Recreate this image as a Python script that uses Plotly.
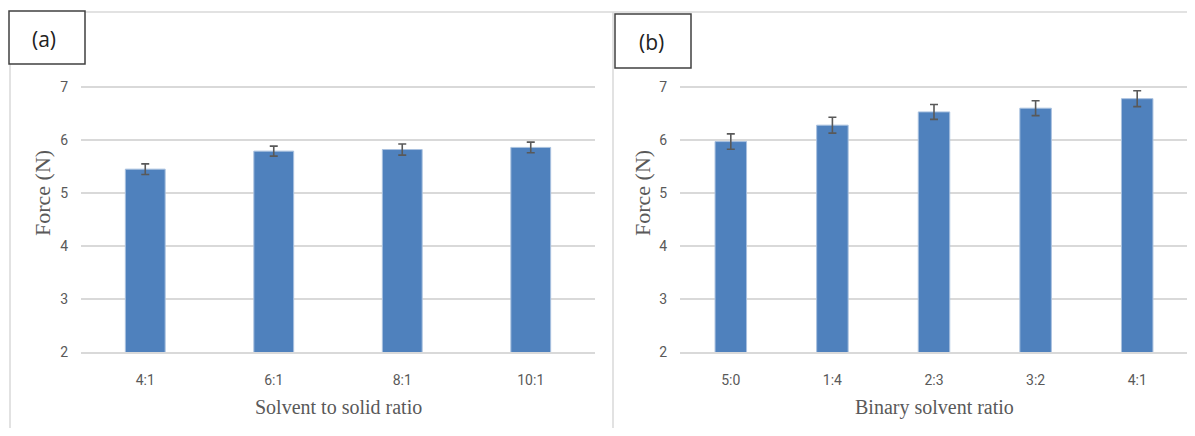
import plotly.graph_objects as go

# The page body has an 8px margin, so the figure is placed at (8, 8) in the window.
OFF = 8
W, H = 1195 - OFF, 436 - 2 * OFF

# Panel (a)
cats_a = ["4:1", "6:1", "8:1", "10:1"]
force_a = [5.45, 5.79, 5.82, 5.86]
err_a = [0.10, 0.095, 0.105, 0.10]

# Panel (b)
cats_b = ["5:0", "1:4", "2:3", "3:2", "4:1"]
force_b = [5.97, 6.28, 6.53, 6.60, 6.78]
err_b = [0.145, 0.15, 0.14, 0.14, 0.15]

# the "8" label is hidden behind the (a)/(b) boxes in the reference
y_ticks = [2, 3, 4, 5, 6, 7, 8]
y_ticktext = ["2", "3", "4", "5", "6", "7", ""]

xtitle_a = "Solvent to solid ratio"
xtitle_b = "Binary solvent ratio"
ytitle = "Force (N)"

BAR = "#4f81bd"
GRID = "#d9d9d9"
TXT = "#595959"

def px_x(x):
    return (x - OFF) / W

def px_y(y):
    return 1 - (y - OFF) / H

fig = go.Figure()
fig.add_trace(go.Bar(x=cats_a, y=force_a, xaxis="x", yaxis="y",
                     marker=dict(color=BAR, line=dict(color="#a9c1df", width=1)),
                     error_y=dict(type="data", array=err_a, color=TXT, thickness=1.6, width=4),
                     showlegend=False))
fig.add_trace(go.Bar(x=cats_b, y=force_b, xaxis="x2", yaxis="y2",
                     marker=dict(color=BAR, line=dict(color="#a9c1df", width=1)),
                     error_y=dict(type="data", array=err_b, color=TXT, thickness=1.6, width=4),
                     showlegend=False))

ydom = [px_y(352), px_y(34)]
tickfont = dict(family="Liberation Sans Narrow, Roboto, Arial", size=14, color=TXT)

common_y = dict(range=[2, 8], tickvals=y_ticks, ticktext=y_ticktext, showgrid=True,
                gridcolor=GRID, gridwidth=1.5, zeroline=False, showline=False,
                tickfont=tickfont, ticklabelstandoff=12, fixedrange=True, automargin=False)
common_x = dict(showgrid=False, showline=True, linecolor=GRID, linewidth=1.5,
                tickfont=tickfont, ticks="", ticklabelstandoff=14, fixedrange=True,
                automargin=False)

fig.update_layout(
    width=W, height=H,
    margin=dict(l=0, r=0, t=0, b=0, pad=0, autoexpand=False),
    paper_bgcolor="white", plot_bgcolor="white",
    bargap=0.69,
    xaxis=dict(domain=[px_x(81), px_x(595)], anchor="y", **common_x),
    yaxis=dict(domain=ydom, anchor="x", **common_y),
    xaxis2=dict(domain=[px_x(680), px_x(1188)], anchor="y2", **common_x),
    yaxis2=dict(domain=ydom, anchor="x2", **common_y),
)

shapes = []
# panel borders
shapes.append(dict(type="line", xref="paper", yref="paper", x0=px_x(10), x1=1, y0=px_y(12), y1=px_y(12),
                   line=dict(color=GRID, width=1.5), layer="below"))
for xv in (10, 613):
    shapes.append(dict(type="line", xref="paper", yref="paper", x0=px_x(xv), x1=px_x(xv), y0=0, y1=px_y(12),
                       line=dict(color=GRID, width=1.5), layer="below"))
# label boxes
for (x0, y0, x1, y1) in [(9, 11, 85, 64), (615, 14, 691, 68)]:
    shapes.append(dict(type="rect", xref="paper", yref="paper", x0=px_x(x0), x1=px_x(x1),
                       y0=px_y(y1), y1=px_y(y0), fillcolor="white",
                       line=dict(color="#404040", width=1.5), layer="above"))
fig.update_layout(shapes=shapes)

ann = []
boxfont = dict(family="Open Sans, Noto Sans, Arial", size=21, color="#222222")
ann.append(dict(text="(a)", x=px_x(44), y=px_y(39), font=boxfont))
ann.append(dict(text="(b)", x=px_x(651), y=px_y(42), font=boxfont))
yfont = dict(family="Liberation Serif, Times New Roman, serif", size=22, color=TXT)
xfont = dict(family="Liberation Serif, Times New Roman, serif", size=20, color=TXT)
for xv in (42, 642):
    ann.append(dict(text=ytitle, x=px_x(xv), y=px_y(193), textangle=-90, font=yfont))
ann.append(dict(text=xtitle_a, x=px_x(338), y=px_y(407), font=xfont))
ann.append(dict(text=xtitle_b, x=px_x(934), y=px_y(407), font=xfont))
for a in ann:
    a.update(xref="paper", yref="paper", showarrow=False, xanchor="center", yanchor="middle")
fig.update_layout(annotations=ann)

fig.write_html("out.html")
